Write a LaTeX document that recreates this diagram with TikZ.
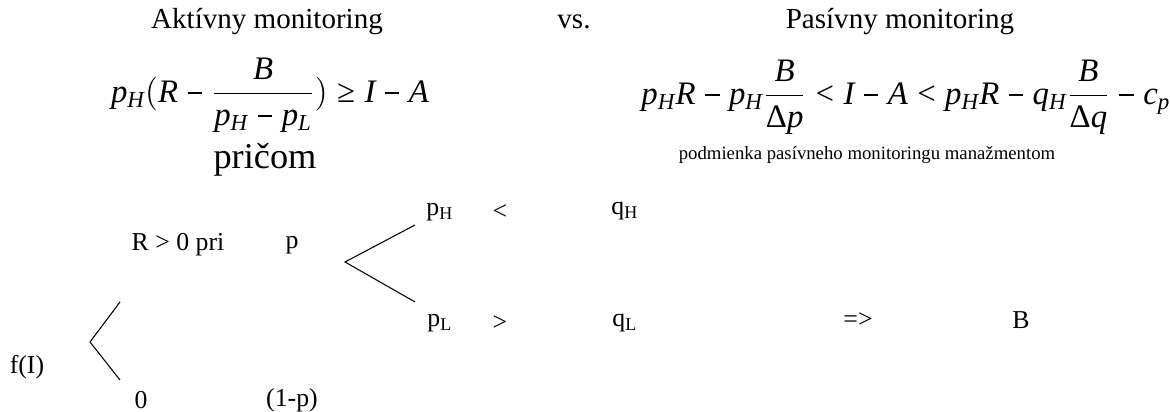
\documentclass[tikz,border=0pt]{standalone}
\usepackage{amsmath}
\usepackage{fontspec}
\setmainfont{Liberation Serif}
\usepackage{tikz}
\usetikzlibrary{positioning}
\newcommand{\mv}[1]{\mathit{#1}}
\newcommand{\dlt}{\text{\upshape Δ}}
\newcommand{\mminus}{\mathbin{\kern0.06em\rule[0.24em]{0.44em}{0.075em}\kern0.06em}}
\newcommand{\mless}{\mathrel{\text{\upshape <}}}
\newcommand{\mgeq}{\mathrel{\text{\upshape ≥}}}

\begin{document}
\begin{tikzpicture}[x=0.015cm, y=-0.015cm,
    head/.style={inner sep=0pt, font=\fontsize{12.4}{15}\selectfont},
    txt/.style={inner sep=0pt, font=\fontsize{11}{13}\selectfont},
    small/.style={inner sep=0pt, font=\fontsize{8}{10}\selectfont},
    formula/.style={inner sep=0pt, font=\fontsize{14}{17}\selectfont},
    branch/.style={line width=0.45pt, black}
]
    \useasboundingbox (0,0) rectangle (1170,412);

    % Headings
    \node[head] (akt) at (267,22) {Aktívny monitoring};
    \node[head] (vs) at (574,22) {vs.};
    \node[head] (pas) at (900,22) {Pasívny monitoring};

    % Conditions
    \node[formula] (condA) at (270,95)
        {$\mv{p}_{\mv{H}}(\mv{R} \mminus \dfrac{\mv{B}}{\mv{p}_{\mv{H}} \mminus \mv{p}_{\mv{L}}}) \mgeq \mv{I} \mminus \mv{A}$};
    \node[head, font=\fontsize{15.5}{18}\selectfont] (pricom) at (265,160) {pričom};
    \node[formula] (condP) at (906,97)
        {$\mv{p}_{\mv{H}}\mv{R} \mminus \mv{p}_{\mv{H}}\dfrac{\mv{B}}{\dlt \mv{p}} \mless \mv{I} \mminus \mv{A} \mless \mv{p}_{\mv{H}}\mv{R} \mminus \mv{q}_{\mv{H}}\dfrac{\mv{B}}{\dlt \mv{q}} \mminus \mv{c}_{\mv{p}}$};
    \node[small] (podm) at (867,155) {podmienka pasívneho monitoringu manažmentom};

    % Tree
    \node[txt] (fI) at (27,367) {f(I)};
    \node[txt] (Rpos) at (178,245) {R > 0 pri};
    \node[txt] (prob) at (292,245) {p};
    \node[txt] (zero) at (141,400) {0};
    \node[txt] (probc) at (292,400) {(1-p)};
    \node[txt] (pH) at (440,212) {p\textsubscript{H}};
    \node[txt] (lt) at (500,212) {<};
    \node[txt] (qH) at (625,211) {q\textsubscript{H}};
    \node[txt] (pL) at (440,323) {p\textsubscript{L}};
    \node[txt] (gt) at (500,323) {>};
    \node[txt] (qL) at (625,323) {q\textsubscript{L}};
    \node[txt] (impl) at (858,320) {=>};
    \node[txt] (res) at (1021,320) {B};

    % Branch points
    \coordinate (forkA) at (90,342);
    \coordinate (forkAtop) at (120,302);
    \coordinate (forkAbot) at (120,380);
    \coordinate (forkB) at (345,262);
    \coordinate (forkBtop) at (415,225);
    \coordinate (forkBbot) at (415,302);

    % Branches
    \draw[branch] (forkAtop) -- (forkA) -- (forkAbot);
    \draw[branch] (forkBtop) -- (forkB) -- (forkBbot);
\end{tikzpicture}
\end{document}
